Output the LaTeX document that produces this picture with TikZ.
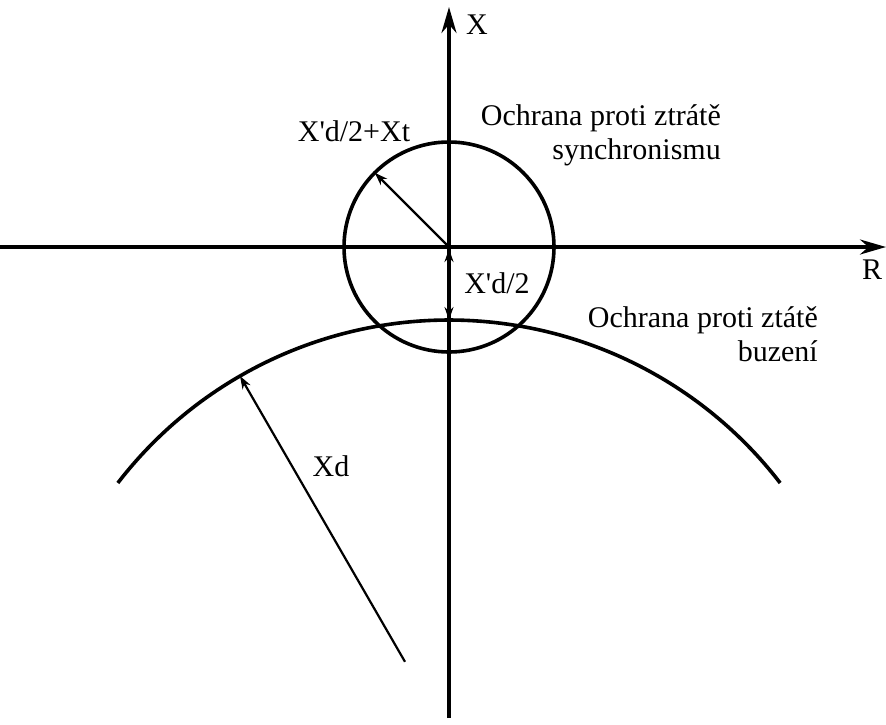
\documentclass[tikz,border=0pt]{standalone}
\usepackage{fontspec}
\setmainfont{Liberation Serif}
\usetikzlibrary{arrows.meta,calc}

\begin{document}
\begin{tikzpicture}[x=1pt, y=-1pt,
  axis/.style={line width=3.4pt, -{Stealth[length=26pt,width=15pt]}},
  curve/.style={line width=3.6pt},
  dimarrow/.style={line width=2.2pt, -{Stealth[length=13pt,width=9pt]}},
  lbl/.style={inner sep=0pt, font=\fontsize{30}{34}\selectfont}]

  %% ==== axes ====
  \coordinate (O) at (449,247);
  \coordinate (Rstart) at (0,247);
  \coordinate (Rend) at (886,247);
  \coordinate (Xstart) at (449,718);
  \coordinate (Xend) at (449,7);
  \draw[axis] (Rstart) -- (Rend);
  \draw[axis] (Xstart) -- (Xend);
  \node[lbl] (xlabel) at (477,25) {X};
  \node[lbl] (rlabel) at (872,270) {R};

  %% ==== circle and arc ====
  \draw[curve] (O) circle[radius=105];
  \coordinate (C) at (449,738);   % centre of the big arc
  \draw[curve] ($(C)+(-142.4:418)$) arc[start angle=-142.4, end angle=-37.6, radius=418];

  %% ==== dimension arrows ====
  \coordinate (rimS) at ($(O)+(-135:105)$);
  \coordinate (arcTop) at ($(C)+(-90:418)$);
  \coordinate (arcXd) at ($(C)+(-120:418)$);
  \coordinate (xdStart) at ($(C)+(-120:88)$);
  \draw[dimarrow] (O) -- (rimS);
  \draw[dimarrow, {Stealth[length=13pt,width=9pt]}-{Stealth[length=13pt,width=9pt]}] ($(O)+(0,2)$) -- (arcTop);
  \draw[dimarrow] (xdStart) -- (arcXd);

  %% ==== labels ====
  \node[lbl] (rS) at (354,131) {X\textquotesingle d/2+Xt};
  \node[lbl] (halfXd) at (497,283) {X\textquotesingle d/2};
  \node[lbl] (xd) at (331,466) {Xd};
  \node[lbl, align=right, anchor=east] (sync) at (721,135) {Ochrana proti ztrátě\\synchronismu};
  \node[lbl, align=right, anchor=east] (exc) at (818,334) {Ochrana proti ztátě\\buzení};

  \pgfresetboundingbox
  \path[use as bounding box] (0,0) rectangle (886,724);
\end{tikzpicture}
\end{document}
